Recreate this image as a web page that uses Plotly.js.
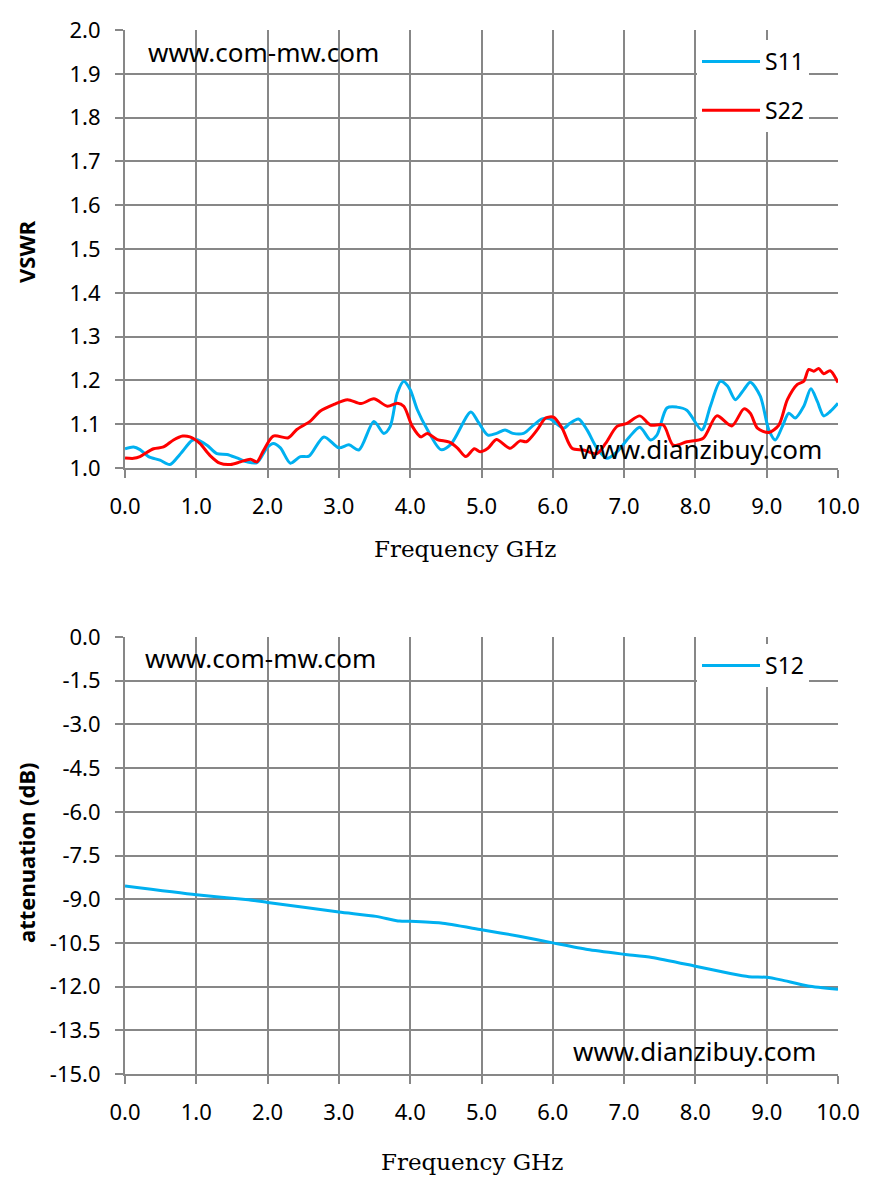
<!DOCTYPE html>
<html>
<head>
<meta charset="utf-8">
<script src="https://cdn.plot.ly/plotly-3.0.1.min.js"></script>
<style>
  html, body { margin: 0; padding: 0; background: #fff; }
  #myChart { width: 879px; height: 1191px; }
</style>
</head>
<body>
<div id="myChart"></div>
<script>
// S11 / S22 VSWR
var s11_freq = [0, 0.12, 0.21, 0.33, 0.49, 0.63, 0.77, 0.94, 1.0, 1.15, 1.29, 1.43, 1.57, 1.71, 1.85, 1.99, 2.08, 2.18,
  2.32, 2.46, 2.58, 2.79, 3.0, 3.14, 3.28, 3.49, 3.63, 3.72, 3.82, 3.91, 4.0, 4.1, 4.24, 4.43, 4.57, 4.85,
  4.95, 5.09, 5.21, 5.33, 5.44, 5.59, 5.73, 5.85, 5.96, 6.15, 6.24, 6.36, 6.48, 6.62, 6.76, 6.9, 7.08, 7.22,
  7.37, 7.46, 7.6, 7.74, 7.88, 8.09, 8.21, 8.35, 8.45, 8.56, 8.68, 8.77, 8.91, 9.03, 9.12, 9.22, 9.31, 9.4,
  9.52, 9.62, 9.71, 9.8, 9.89, 10.0];
var s11_vswr = [1.044, 1.048, 1.042, 1.026, 1.018, 1.008, 1.031, 1.063, 1.065, 1.052, 1.033, 1.031, 1.023, 1.014, 1.012, 1.046, 1.056, 1.046,
  1.011, 1.026, 1.027, 1.071, 1.046, 1.053, 1.041, 1.106, 1.079, 1.095, 1.171, 1.198, 1.179, 1.133, 1.088, 1.042, 1.054, 1.128,
  1.106, 1.075, 1.079, 1.087, 1.079, 1.079, 1.098, 1.112, 1.112, 1.091, 1.102, 1.112, 1.087, 1.045, 1.022, 1.037, 1.072, 1.093,
  1.064, 1.075, 1.137, 1.139, 1.132, 1.087, 1.141, 1.198, 1.187, 1.156, 1.179, 1.196, 1.164, 1.087, 1.064, 1.095, 1.125, 1.114,
  1.141, 1.181, 1.152, 1.119, 1.129, 1.148];

var s22_freq = [0, 0.12, 0.21, 0.40, 0.54, 0.68, 0.81, 0.91, 1.05, 1.19, 1.33, 1.48, 1.62, 1.76, 1.85, 1.94, 2.08, 2.29,
  2.41, 2.6, 2.74, 2.93, 3.12, 3.31, 3.49, 3.68, 3.82, 3.91, 4.03, 4.15, 4.24, 4.38, 4.55, 4.66, 4.78, 4.9,
  4.98, 5.09, 5.21, 5.4, 5.54, 5.63, 5.78, 5.9, 6.01, 6.13, 6.27, 6.43, 6.62, 6.74, 6.9, 7.04, 7.22, 7.37,
  7.55, 7.69, 7.88, 8.11, 8.3, 8.51, 8.68, 8.77, 8.87, 9.03, 9.17, 9.29, 9.43, 9.52, 9.59, 9.66, 9.73, 9.8,
  9.89, 10.0];
var s22_vswr = [1.023, 1.022, 1.026, 1.044, 1.048, 1.064, 1.073, 1.071, 1.056, 1.029, 1.011, 1.008, 1.014, 1.020, 1.014, 1.039, 1.073, 1.069,
  1.088, 1.107, 1.130, 1.145, 1.156, 1.147, 1.158, 1.141, 1.148, 1.141, 1.095, 1.071, 1.079, 1.065, 1.059, 1.046, 1.026, 1.044,
  1.037, 1.045, 1.065, 1.045, 1.062, 1.060, 1.087, 1.114, 1.116, 1.091, 1.045, 1.041, 1.033, 1.056, 1.095, 1.102, 1.119, 1.098,
  1.098, 1.052, 1.060, 1.068, 1.119, 1.096, 1.135, 1.125, 1.091, 1.081, 1.098, 1.156, 1.191, 1.198, 1.225, 1.221, 1.227, 1.215,
  1.222, 1.195];

// S12 attenuation (dB)
var s12_freq = [0, 1.0, 1.73, 2.0, 3.0, 3.52, 3.85, 4.0, 4.43, 5.0, 5.53, 6.0, 6.49, 7.0, 7.39, 8.0, 8.49, 8.75, 9.0, 9.2, 9.58, 10.0];
var s12_db = [-8.55, -8.85, -9.02, -9.11, -9.44, -9.59, -9.75, -9.76, -9.82, -10.05, -10.27, -10.5, -10.73, -10.89, -11.0, -11.30,
  -11.55, -11.66, -11.68, -11.77, -11.98, -12.09];

// attenuation ticks written with a plain hyphen, as in the original
var db_tickvals = [0, -1.5, -3, -4.5, -6, -7.5, -9, -10.5, -12, -13.5, -15];
var db_ticktext = ['0.0', '-1.5', '-3.0', '-4.5', '-6.0', '-7.5', '-9.0', '-10.5', '-12.0', '-13.5', '-15.0'];

var series_names = ["S11", "S22", "S12"];
var series_colours = ["#00B0F0", "#FF0000", "#00B0F0"];

var W = 879, H = 1191;
function px(x) { return x / W; }
function py(y) { return 1 - y / H; }

var grid = '#878787';
var tickFont = {family: 'Noto Sans', size: 22, color: '#000'};
var legendFont = {family: 'Noto Sans', size: 23, color: '#000'};

function xAxis(anchor, dom) {
  return {
    domain: dom, anchor: anchor, range: [0, 10], dtick: 1, tick0: 0, tickformat: '.1f',
    showgrid: true, gridcolor: grid, gridwidth: 2,
    showline: true, linecolor: grid, linewidth: 2,
    ticks: 'outside', ticklen: 8, tickwidth: 2, tickcolor: grid,
    zeroline: false, tickfont: tickFont, ticklabelstandoff: 10, fixedrange: true
  };
}
function yAxis(anchor, dom, rng, dt) {
  return {
    domain: dom, anchor: anchor, range: rng, dtick: dt, tick0: rng[0], tickformat: '.1f',
    showgrid: true, gridcolor: grid, gridwidth: 2,
    showline: true, linecolor: grid, linewidth: 2,
    ticks: 'outside', ticklen: 8, tickwidth: 2, tickcolor: grid,
    zeroline: false, tickfont: tickFont, ticklabelstandoff: 10, fixedrange: true
  };
}

var data = [
  {
    x: s11_freq, y: s11_vswr, name: series_names[0], xaxis: 'x', yaxis: 'y',
    type: 'scatter', mode: 'lines', line: {color: series_colours[0], width: 3, shape: 'spline', smoothing: 0.8},
    legendgroup: 'a', legend: 'legend', hoverinfo: 'skip'
  },
  {
    x: s22_freq, y: s22_vswr, name: series_names[1], xaxis: 'x', yaxis: 'y',
    type: 'scatter', mode: 'lines', line: {color: series_colours[1], width: 3, shape: 'spline', smoothing: 0.8},
    legendgroup: 'b', legend: 'legend', hoverinfo: 'skip'
  },
  {
    x: s12_freq, y: s12_db, name: series_names[2], xaxis: 'x2', yaxis: 'y2',
    type: 'scatter', mode: 'lines', line: {color: series_colours[2], width: 3, shape: 'spline', smoothing: 0.6},
    legend: 'legend2', hoverinfo: 'skip'
  }
];

var xdom = [px(125), px(838)];
var wmFont = {family: 'Noto Sans', size: 26, color: '#000'};
var titleFont = {family: 'DejaVu Serif', size: 23, color: '#000'};
var ytitleFont = {family: 'Noto Sans', size: 22, color: '#000', weight: 'bold'};

function note(text, x, y, xanchor, font, angle) {
  return {
    text: text, xref: 'paper', yref: 'paper', x: px(x), y: py(y),
    xanchor: xanchor, yanchor: 'middle', showarrow: false, font: font, textangle: angle || 0
  };
}

var y2 = yAxis('x2', [py(1074), py(637)], [-15, 0], 1.5);
y2.tickmode = 'array';
y2.tickvals = db_tickvals;
y2.ticktext = db_ticktext;

var layout = {
  width: W, height: H,
  paper_bgcolor: '#fff', plot_bgcolor: '#fff',
  margin: {l: 0, r: 0, t: 0, b: 0},
  showlegend: true,
  xaxis: xAxis('y', xdom),
  yaxis: yAxis('x', [py(468), py(30)], [1, 2], 0.1),
  xaxis2: xAxis('y2', xdom),
  yaxis2: y2,
  legend: {
    x: px(697), y: py(40), xanchor: 'left', yanchor: 'top',
    bgcolor: '#fff', borderwidth: 0, font: legendFont,
    traceorder: 'grouped', tracegroupgap: 16, itemwidth: 58
  },
  legend2: {
    x: px(697), y: py(644), xanchor: 'left', yanchor: 'top',
    bgcolor: '#fff', borderwidth: 0, font: legendFont, itemwidth: 58
  },
  annotations: [
    note('www.com-mw.com', 146, 52, 'left', wmFont),
    note('www.dianzibuy.com', 577, 449, 'left', wmFont),
    note('www.com-mw.com', 143, 658, 'left', wmFont),
    note('www.dianzibuy.com', 571, 1051, 'left', wmFont),
    note('Frequency GHz', 465, 549, 'center', titleFont),
    note('Frequency GHz', 472, 1162, 'center', titleFont),
    note('VSWR', 26, 252, 'center', ytitleFont, -90),
    note('attenuation (dB)', 26, 853, 'center', ytitleFont, -90)
  ]
};

Plotly.newPlot('myChart', data, layout, {displayModeBar: false, staticPlot: true});
</script>
</body>
</html>
